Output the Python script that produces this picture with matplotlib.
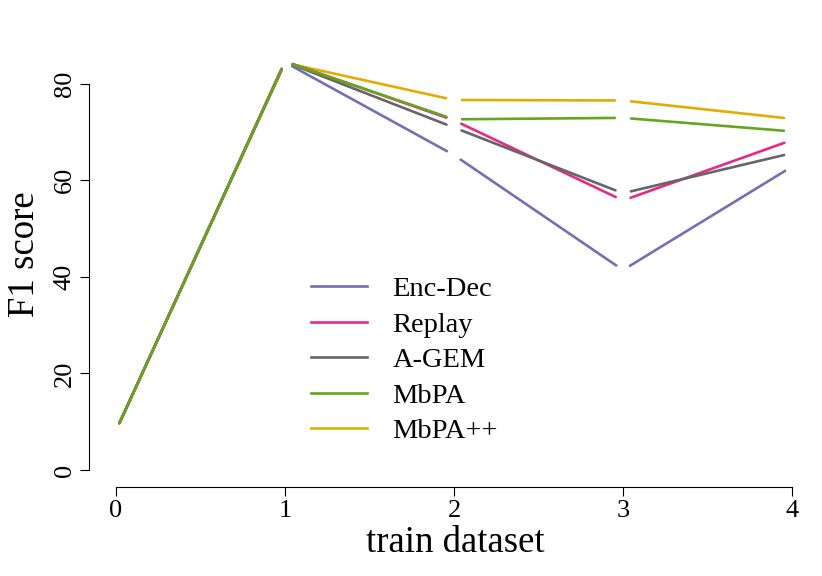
import matplotlib.pyplot as plt
from matplotlib.lines import Line2D

plt.rcParams['font.family'] = ['Liberation Serif', 'DejaVu Serif']

# F1 score on the first dataset after training on each dataset
train_step = [0, 1, 2, 3, 4]
enc_dec = [8.2, 84.4, 65.2, 41.4, 62.8]
replay = [8.2, 84.6, 72.4, 55.8, 68.3]
agem = [8.2, 84.5, 70.9, 57.3, 65.6]
mbpa = [8.2, 84.5, 72.6, 72.9, 70.1]
mbpa_pp = [8.2, 84.3, 76.6, 76.5, 72.7]

names = ['Enc-Dec', 'Replay', 'A-GEM', 'MbPA', 'MbPA++']
series = [enc_dec, replay, agem, mbpa, mbpa_pp]
colors = ['#7570B3', '#E7298A', '#666666', '#66A61E', '#E6AB02']

fig = plt.figure(figsize=(8.22, 5.76), dpi=100)
ax = fig.add_axes([89 / 822, 89 / 576, 730 / 822, 459 / 576])
ax.set_xlim(-0.16, 4.16)
ax.set_ylim(-3.5, 91.5)

lw = 1.9
gap = 5.8  # points, R type="c" style gaps around each point
draw_order = [4, 0, 1, 2, 3]
for i in draw_order:
    ys = series[i]
    for k in range(len(train_step) - 1):
        ax.annotate('', xy=(train_step[k + 1], ys[k + 1]),
                    xytext=(train_step[k], ys[k]),
                    arrowprops=dict(arrowstyle='-', color=colors[i], lw=lw,
                                    shrinkA=gap, shrinkB=gap))

handles = [Line2D([], [], color=c, lw=lw) for c in colors]
fig.legend(handles, names, loc='upper left',
           bbox_to_anchor=(300 / 822, 1 - 265 / 576), frameon=False,
           fontsize=20.5, handlelength=1.95, handletextpad=0.9,
           labelspacing=0.335, borderaxespad=0)

for side in ['top', 'right']:
    ax.spines[side].set_visible(False)
ax.spines['left'].set_bounds(0, 80)
ax.spines['bottom'].set_bounds(0, 4)
ax.set_xticks([0, 1, 2, 3, 4])
ax.set_yticks([0, 20, 40, 60, 80])
ax.tick_params(direction='out', length=6.5, width=0.8, labelsize=19, pad=3)
for lab in ax.get_yticklabels():
    lab.set_rotation(90)
    lab.set_va('center')

fig.text(455 / 822, 1 - 543 / 576, 'train dataset', fontsize=26.5,
         ha='center', va='center')
fig.text(25 / 822, 1 - 254 / 576, 'F1 score', fontsize=26.5,
         ha='center', va='center', rotation=90)

fig.savefig('out.png', dpi=100)
